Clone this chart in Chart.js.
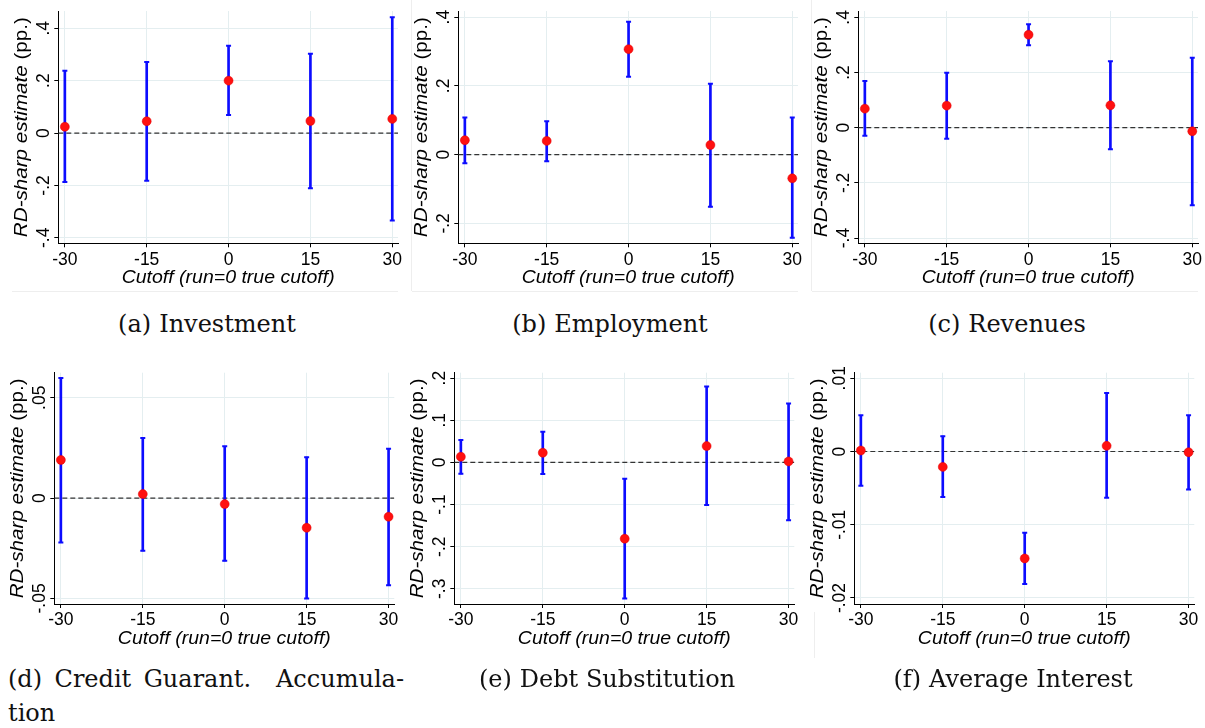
<!DOCTYPE html>
<html>
<head>
<meta charset="utf-8">
<script src="https://cdn.jsdelivr.net/npm/chart.js@4.4.1/dist/chart.umd.min.js"></script>
<style>
  body { margin: 0; background: #fff; width: 1205px; height: 728px; position: relative; overflow: hidden; }
  canvas { position: absolute; }
  .cap { position: absolute; width: 400px; text-align: center; font-family: "DejaVu Serif", serif; font-size: 24px; line-height: 34px; color: #111; white-space: nowrap; }
  .cap b { font-weight: normal; margin-right: 8px; }
  .line { position: absolute; background: #eeeeee; }
</style>
</head>
<body>
<div class="line" style="left:12px;top:291px;width:386px;height:1px"></div>
<div class="line" style="left:412px;top:291px;width:386px;height:1px"></div>
<div class="line" style="left:812px;top:291px;width:386px;height:1px"></div>
<div class="line" style="left:411px;top:0px;width:1px;height:291px"></div>
<div class="line" style="left:811px;top:0px;width:1px;height:291px"></div>
<div class="line" style="left:814px;top:612px;width:1px;height:46px"></div>

<canvas id="pa" width="410" height="300" style="left:0px;top:0px"></canvas>
<canvas id="pb" width="410" height="300" style="left:400px;top:0px"></canvas>
<canvas id="pc" width="410" height="300" style="left:800px;top:0px"></canvas>
<canvas id="pd" width="410" height="300" style="left:0px;top:360px"></canvas>
<canvas id="pe" width="410" height="300" style="left:400px;top:360px"></canvas>
<canvas id="pf" width="410" height="300" style="left:800px;top:360px"></canvas>

<div class="cap" style="left:7px;top:307px"><b>(a)</b>Investment</div>
<div class="cap" style="left:410px;top:307px"><b>(b)</b>Employment</div>
<div class="cap" style="left:807px;top:307px"><b>(c)</b>Revenues</div>
<div class="cap" style="left:8px;top:662px;width:396px;text-align:justify;text-align-last:justify">(d) Credit Guarant.&nbsp; Accumula-</div>
<div class="cap" style="left:8px;top:696px;text-align:left">tion</div>
<div class="cap" style="left:407px;top:662px"><b>(e)</b>Debt Substitution</div>
<div class="cap" style="left:813px;top:662px"><b>(f)</b>Average Interest</div>

<script>
// cutoffs on the x axis
var cutoffs = [-30, -15, 0, 15, 30]
var xTicks = [-30, -15, 0, 15, 30]
var xRange = [-31.2, 31.05]

// (a) Investment
var invEst = [0.024, 0.045, 0.200, 0.046, 0.054]
var invLo = [-0.187, -0.182, 0.069, -0.211, -0.334]
var invHi = [0.238, 0.271, 0.333, 0.303, 0.442]
var invTicks = [-0.4, -0.2, 0, 0.2, 0.4]

// (b) Employment
var empEst = [0.042, 0.040, 0.307, 0.028, -0.069]
var empLo = [-0.025, -0.019, 0.227, -0.152, -0.242]
var empHi = [0.108, 0.097, 0.387, 0.206, 0.108]
var empTicks = [-0.2, 0, 0.2, 0.4]

// (c) Revenues
var revEst = [0.069, 0.080, 0.337, 0.081, -0.013]
var revLo = [-0.029, -0.040, 0.299, -0.078, -0.281]
var revHi = [0.169, 0.199, 0.375, 0.241, 0.254]
var revTicks = [-0.4, -0.2, 0, 0.2, 0.4]

// (d) Credit Guarant. Accumulation
var cgEst = [0.019, 0.002, -0.003, -0.0148, -0.0093]
var cgLo = [-0.0221, -0.0263, -0.0313, -0.050, -0.0434]
var cgHi = [0.0598, 0.030, 0.0258, 0.0204, 0.0246]
var cgTicks = [-0.05, 0, 0.05]

// (e) Debt Substitution
var debtEst = [0.0135, 0.023, -0.181, 0.0388, 0.0024]
var debtLo = [-0.027, -0.0277, -0.323, -0.101, -0.137]
var debtHi = [0.053, 0.073, -0.0388, 0.180, 0.140]
var debtTicks = [-0.3, -0.2, -0.1, 0, 0.1, 0.2]

// (f) Average Interest
var intEst = [0.00014, -0.0021, -0.0146, 0.00077, -0.0001]
var intLo = [-0.00468, -0.0062, -0.0181, -0.0063, -0.0052]
var intHi = [0.00495, 0.0021, -0.0111, 0.0080, 0.00495]
var intTicks = [-0.02, -0.01, 0, 0.01]

var SANS = "'Liberation Sans', Arial, sans-serif"
var BLUE = '#0c0cff'
var GRID = '#e4eef0'
var TITLE_PX = 17.5

// stata style tick labels: .2, -.05, 0
function fmt(v) {
    if (Math.abs(v) < 1e-12) return '0'
    return String(+v.toFixed(4)).replace('0.', '.')
}

var measure = document.createElement('canvas').getContext('2d')
measure.font = '17px ' + SANS

// draws a list of [text, italic] parts centred at 0,0 and stretched to a width
function drawParts(ctx, parts, width){
    var ws = parts.map(function(p){
        ctx.font = (p[1] ? 'italic ' : '') + TITLE_PX + 'px ' + SANS
        return ctx.measureText(p[0]).width
    })
    var total = ws.reduce(function(a, b){ return a + b }, 0)
    ctx.scale(width / total, 1)
    var x = -total / 2
    parts.forEach(function(p, i){
        ctx.font = (p[1] ? 'italic ' : '') + TITLE_PX + 'px ' + SANS
        ctx.fillText(p[0], x, 0)
        x += ws[i]
    })
}

// axis titles (stata stretches them a bit wider than the tick labels)
var axisTitles = {
    id: 'axisTitles',
    afterDraw: function(chart){
        var a = chart.chartArea
        var ctx = chart.ctx
        ctx.save()
        ctx.fillStyle = '#000'
        ctx.textBaseline = 'alphabetic'
        ctx.translate((a.left + a.right) / 2, a.bottom + 40)
        drawParts(ctx, [['Cutoff (run=0 true cutoff)', true]], 213)
        ctx.restore()

        ctx.save()
        ctx.fillStyle = '#000'
        ctx.textBaseline = 'alphabetic'
        ctx.translate(a.left - 31.3, (a.top + a.bottom) / 2)
        ctx.rotate(-Math.PI / 2)
        drawParts(ctx, [['RD-sharp estimate', true], [' (pp.)', false]], 220)
        ctx.restore()
    }
}

function noPad(s){
    s.paddingLeft = 0; s.paddingRight = 0; s.paddingTop = 0; s.paddingBottom = 0
}

function panel(id, est, lo, hi, ticks, yMin, yMax, axisW, top, right, padBottom){
    var pts = [], caps = [], bars = []
    cutoffs.forEach(function(c, i){
        pts.push({x: c, y: est[i]})
        caps.push({x: c, y: lo[i]})
        caps.push({x: c, y: hi[i]})
        bars.push({x: c, y: [lo[i], hi[i]]})
    })
    var zero = [{x: xRange[0], y: 0}, {x: xRange[1], y: 0}]

    var widest = 0
    ticks.forEach(function(v){ widest = Math.max(widest, measure.measureText(fmt(v)).width) })
    var tickPad = 10 - widest / 2

    new Chart(document.getElementById(id), {
        type: 'scatter',
        data: {
            datasets: [
                {type: 'scatter', data: pts, pointRadius: 4.5, backgroundColor: '#ff1010', borderColor: '#e00000', borderWidth: 0.5},
                {type: 'scatter', data: caps, pointStyle: 'line', pointRadius: 2.5, borderColor: BLUE, borderWidth: 2},
                {type: 'bar', data: bars, backgroundColor: BLUE, barThickness: 2, borderWidth: 0},
                {type: 'line', data: zero, borderColor: '#333', borderWidth: 1.2, borderDash: [5, 3], pointRadius: 0, fill: false}
            ]
        },
        options: {
            responsive: false,
            animation: false,
            layout: {padding: {left: 0, top: top, right: right, bottom: padBottom}},
            plugins: {legend: {display: false}, tooltip: {enabled: false}},
            scales: {
                x: {
                    type: 'linear', min: xRange[0], max: xRange[1], offset: false,
                    afterBuildTicks: function(s){ s.ticks = xTicks.map(function(v){ return {value: v} }) },
                    afterFit: function(s){ s.height = 50; noPad(s) },
                    grid: {color: GRID, tickColor: '#000', tickLength: 4, offset: false},
                    border: {color: '#000', width: 1},
                    ticks: {font: {family: SANS, size: 17.5}, color: '#000', padding: 2, maxRotation: 0, autoSkip: false}
                },
                y: {
                    type: 'linear', min: yMin, max: yMax,
                    afterBuildTicks: function(s){ s.ticks = ticks.map(function(v){ return {value: v} }) },
                    afterFit: function(s){ s.width = axisW; noPad(s) },
                    grid: {color: GRID, tickColor: '#000', tickLength: 4},
                    border: {color: '#000', width: 1},
                    ticks: {font: {family: SANS, size: 17.5}, color: '#000', minRotation: 90, maxRotation: 90,
                        crossAlign: 'center', padding: tickPad, autoSkip: false,
                        callback: function(v){ return fmt(v) }}
                }
            }
        },
        plugins: [axisTitles]
    })
}

panel('pa', invEst, invLo, invHi, invTicks, -0.421, 0.466, 58.3, 11, 12, 6.7)
panel('pb', empEst, empLo, empHi, empTicks, -0.258, 0.418, 58.3, 11, 12, 6.7)
panel('pc', revEst, revLo, revHi, revTicks, -0.419, 0.423, 58.3, 11, 12, 6.7)
panel('pd', cgEst, cgLo, cgHi, cgTicks, -0.0528, 0.0625, 54.3, 12.7, 15.7, 6)
panel('pe', debtEst, debtLo, debtHi, debtTicks, -0.336, 0.213, 54.3, 12.7, 15.7, 6)
panel('pf', intEst, intLo, intHi, intTicks, -0.02082, 0.01076, 54.3, 12.7, 15.7, 6)
</script>
</body>
</html>
